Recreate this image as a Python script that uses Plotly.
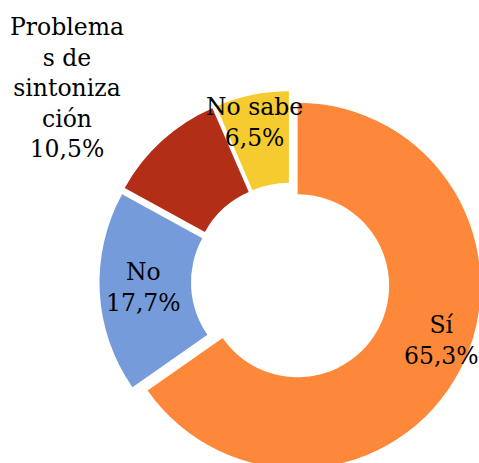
import plotly.graph_objects as go

labels = ["Sí", "No", "Problemas de sintonización", "No sabe"]
values = [65.3, 17.7, 10.5, 6.5]
colors = ["#FE8839", "#759BDA", "#B22E17", "#F5CB2F"]
label_text = ["Sí", "No", "Problema<br>s de<br>sintoniza<br>ción", "No sabe"]

# figure is slightly larger than the 479x463 window; the chart is cropped like the reference
W, H = 492, 482

def pct(v):
    return f"{v:.1f}".replace(".", ",") + "%"

fig = go.Figure(go.Pie(
    labels=labels,
    values=values,
    sort=False,
    direction="clockwise",
    rotation=0,
    hole=0.5,
    pull=[0.044] * len(values),
    marker=dict(colors=colors, line=dict(width=0)),
    textinfo="none",
    hoverinfo="label+percent",
    domain=dict(x=[99.5 / W, 481.5 / W], y=[1 - 473.0 / H, 1 - 91.0 / H]),
    showlegend=False,
))

# label anchor positions (pixels) for each slice's label
label_px = [(441, 340), (143, 287), (67, 88), (254, 122)]

annotations = []
for txt, v, (px, py) in zip(label_text, values, label_px):
    annotations.append(dict(
        x=px / W, y=1 - py / H, xref="paper", yref="paper",
        text=f"{txt}<br>{pct(v)}", showarrow=False,
        xanchor="center", yanchor="middle",
        font=dict(family="DejaVu Serif", size=23.5, color="#000000"),
    ))

fig.update_layout(
    width=W, height=H,
    margin=dict(l=0, r=0, t=0, b=0),
    paper_bgcolor="white",
    plot_bgcolor="white",
    annotations=annotations,
)

fig.write_html(
    "out.html",
    config={"displayModeBar": False},
    post_script="document.body.style.margin='0';document.body.style.overflow='hidden';",
)
